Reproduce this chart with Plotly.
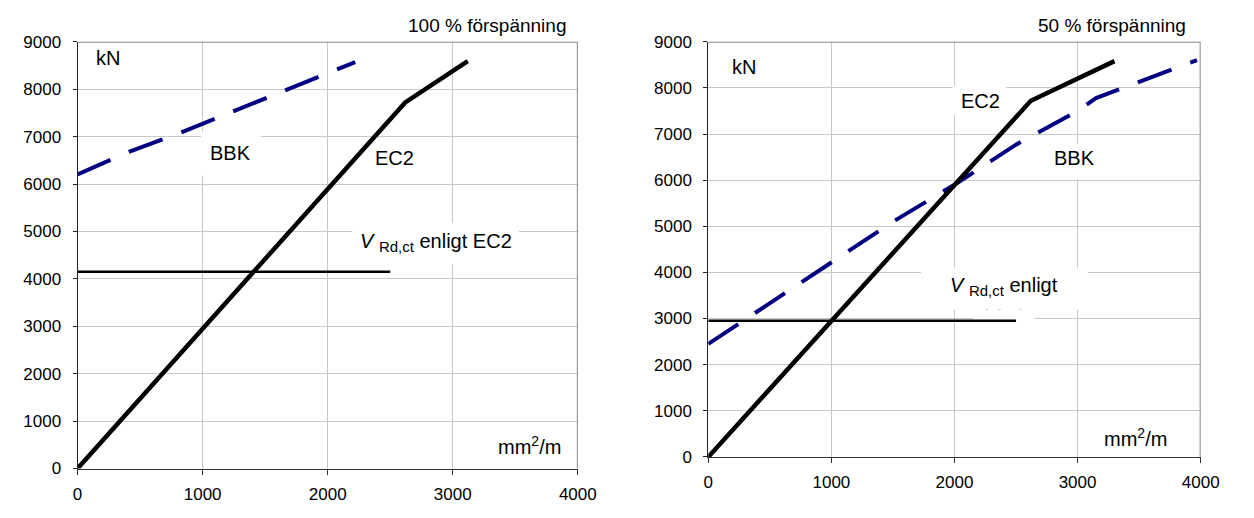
import plotly.graph_objects as go

# ---------------- data ----------------
# Left panel: 100 % förspänning
l_ec2_x = [0, 2620, 3120]
l_ec2_y = [0, 7720, 8590]
l_bbk_x = [0, 410, 830, 1230, 1630, 2040, 2220]
l_bbk_y = [6200, 6680, 7090, 7510, 7930, 8370, 8570]
l_vrd_x = [0, 2500]
l_vrd_y = [4150, 4150]

# Right panel: 50 % förspänning
r_ec2_x = [0, 2620, 3300]
r_ec2_y = [0, 7720, 8580]
r_bbk_x = [0, 500, 1000, 1500, 2000, 2500, 3000, 3150, 3500, 3970]
r_bbk_y = [2450, 3330, 4200, 5100, 5900, 6770, 7500, 7780, 8130, 8600]
r_vrd_x = [0, 2500]
r_vrd_y = [2950, 2950]

x_ticks = [0, 1000, 2000, 3000, 4000]
y_ticks = [0, 1000, 2000, 3000, 4000, 5000, 6000, 7000, 8000, 9000]

FONT = "Arial, Liberation Sans, sans-serif"
TFS = 17      # tick font
LFS = 20      # label font
NAVY = "#000080"
W, H = 1254, 518

fig = go.Figure()

def add_panel(xa, ya, ec2x, ec2y, bbkx, bbky, vx, vy):
    fig.add_trace(go.Scatter(x=vx, y=vy, mode="lines", xaxis=xa, yaxis=ya,
                             line=dict(color="black", width=2.5), showlegend=False, hoverinfo="skip"))
    fig.add_trace(go.Scatter(x=bbkx, y=bbky, mode="lines", xaxis=xa, yaxis=ya,
                             line=dict(color=NAVY, width=4, dash="36px,20px"), showlegend=False, hoverinfo="skip"))
    fig.add_trace(go.Scatter(x=ec2x, y=ec2y, mode="lines", xaxis=xa, yaxis=ya,
                             line=dict(color="black", width=4.5), showlegend=False, hoverinfo="skip"))

add_panel("x", "y", l_ec2_x, l_ec2_y, l_bbk_x, l_bbk_y, l_vrd_x, l_vrd_y)
add_panel("x2", "y2", r_ec2_x, r_ec2_y, r_bbk_x, r_bbk_y, r_vrd_x, r_vrd_y)

# clipped second line "EC2" of the right V label
fig.add_trace(go.Scatter(x=[2400], y=[3115], mode="text", text=["EC2"], xaxis="x2", yaxis="y2",
                         textfont=dict(family=FONT, size=LFS, color="black"),
                         showlegend=False, hoverinfo="skip"))

def xdom(a, b):
    return [a / W, b / W]

def ydom(top, bottom):
    return [1 - bottom / H, 1 - top / H]

axis_common = dict(range=[0, 4000], tickvals=x_ticks, showgrid=True, gridcolor="#c8c8c8", gridwidth=1,
                   showline=True, linecolor="#333333", linewidth=1, ticks="outside", ticklen=5,
                   tickcolor="#333333", zeroline=False, ticklabelstandoff=5,
                   tickfont=dict(family=FONT, size=TFS, color="black"))
yaxis_common = dict(range=[0, 9000], tickvals=y_ticks, showgrid=True, gridcolor="#c8c8c8", gridwidth=1,
                    showline=True, linecolor="#222222", linewidth=1, ticks="outside", ticklen=4,
                    tickcolor="#222222", zeroline=False, ticklabelstandoff=8,
                    tickfont=dict(family=FONT, size=TFS, color="black"))

fig.update_layout(
    width=W, height=H, margin=dict(l=0, r=0, t=0, b=0),
    paper_bgcolor="white", plot_bgcolor="white",
    font=dict(family=FONT, size=LFS, color="black"),
    xaxis=dict(domain=xdom(74, 584), anchor="y", **axis_common),
    yaxis=dict(domain=ydom(34, 477), anchor="x", **yaxis_common),
    xaxis2=dict(domain=xdom(717, 1219), anchor="y2", **axis_common),
    yaxis2=dict(domain=ydom(34, 465), anchor="x2", **yaxis_common),
)

shapes = []
# gray top/right frame
for xr, yr in (("x", "y"), ("x2", "y2")):
    shapes.append(dict(type="line", xref=xr, yref=yr, x0=0, x1=4000, y0=9000, y1=9000,
                       line=dict(color="#888888", width=2), layer="above"))
    shapes.append(dict(type="line", xref=xr, yref=yr, x0=4000, x1=4000, y0=0, y1=9000,
                       line=dict(color="#888888", width=2), layer="above"))

# white label boxes (data coords)
boxes = [
    ("x", "y", 988, 1467, 6179, 7114),      # BBK left
    ("x", "y", 2196, 3529, 4309, 5183),     # V left
    ("x2", "y2", 1984, 2422, 7411, 8037),   # EC2 right
    ("x2", "y2", 2720, 3230, 6012, 6785),   # BBK right
    ("x2", "y2", 1729, 3084, 3194, 4113),   # V right
]
for xr, yr, x0, x1, y0, y1 in boxes:
    shapes.append(dict(type="rect", xref=xr, yref=yr, x0=x0, x1=x1, y0=y0, y1=y1,
                       fillcolor="white", line=dict(width=0), layer="above"))
# clip the lower part of the wrapped "EC2"
shapes.append(dict(type="rect", xref="x2", yref="y2", x0=2150, x1=2650, y0=2990, y1=3194,
                   fillcolor="white", line=dict(width=0), layer="above"))
fig.update_layout(shapes=shapes)

ann = []
def A(text, x, y, xr, yr, size=LFS, xanchor="center", yanchor="middle"):
    ann.append(dict(text=text, x=x, y=y, xref=xr, yref=yr, showarrow=False,
                    xanchor=xanchor, yanchor=yanchor, font=dict(family=FONT, size=size, color="black")))

VSUB = '<i>V</i> <sub><span style="font-size:15px">Rd,ct</span></sub>'
A("100 % förspänning", 574 / W, 1 - 17 / H, "paper", "paper", size=19, xanchor="right")
A("50 % förspänning", 1206 / W, 1 - 17 / H, "paper", "paper", size=19, xanchor="right")
A("kN", 240, 8660, "x", "y")
A("kN", 290, 8450, "x2", "y2")
A("BBK", 1224, 6646, "x", "y")
A("EC2", 2533, 6545, "x", "y")
A(VSUB + " enligt EC2", 2863, 4756, "x", "y")
A("mm<sup>2</sup>/m", 3610, 488, "x", "y")
A("EC2", 2215, 7724, "x2", "y2")
A("BBK", 2975, 6472, "x2", "y2")
A(VSUB + " enligt", 2406, 3695, "x2", "y2")
A("mm<sup>2</sup>/m", 3470, 420, "x2", "y2")
fig.update_layout(annotations=ann)

fig.write_html("out.html")
